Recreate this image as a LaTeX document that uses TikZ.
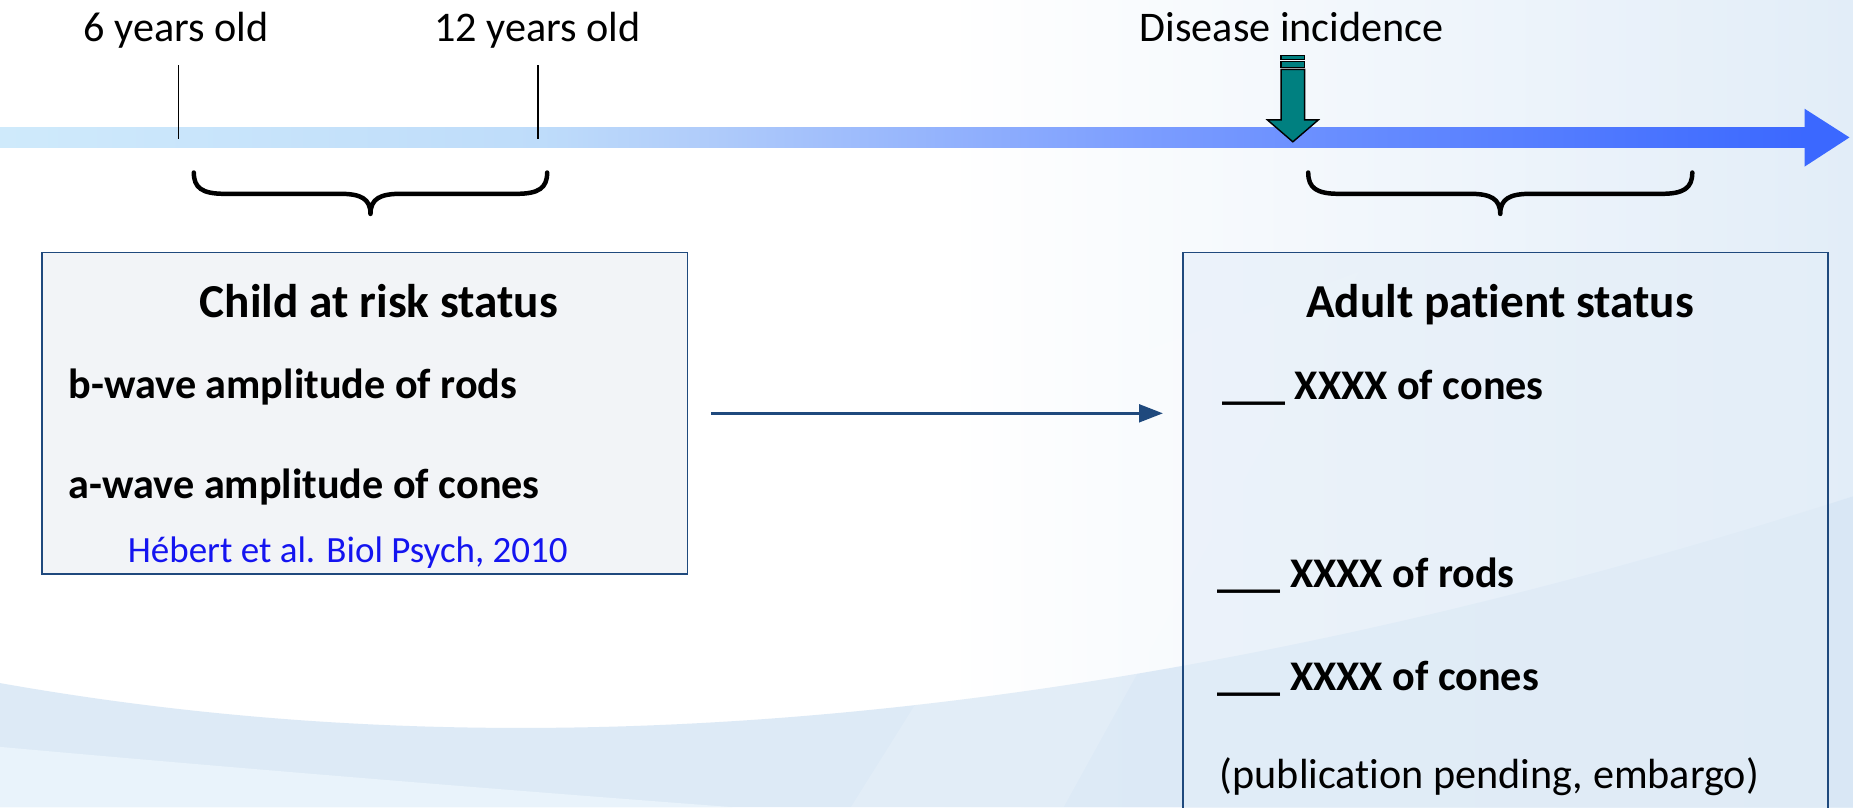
\documentclass[tikz,border=0pt]{standalone}
\usepackage{fontspec}
\setmainfont{Carlito}
\usetikzlibrary{arrows.meta}

% palette
\definecolor{tl0}{HTML}{CFEAFB}
\definecolor{tl1}{HTML}{BEDCFA}
\definecolor{tl2}{HTML}{B0CCFA}
\definecolor{tl3}{HTML}{7A9CFF}
\definecolor{tl4}{HTML}{3B68FF}
\definecolor{bgTint}{HTML}{E2EDF8}
\definecolor{bgWave}{HTML}{D8E7F5}
\definecolor{bgLight}{HTML}{E9F3FB}
\definecolor{boxLine}{HTML}{1F497D}
\definecolor{lboxFill}{HTML}{F2F4F7}
\definecolor{rboxFill}{HTML}{E4EEF8}
\definecolor{teal}{HTML}{008080}
\definecolor{citeBlue}{HTML}{1414F0}

\pgfdeclarehorizontalshading{timelineshade}{100bp}{color(0bp)=(tl0); color(25bp)=(tl0); color(40bp)=(tl1); color(44.5bp)=(tl2); color(57bp)=(tl3); color(75bp)=(tl4); color(100bp)=(tl4)}

% keeps "t" and "i" as separate glyphs
\newcommand{\nolig}{\kern0pt}

\begin{document}
\begin{tikzpicture}[x=1pt,y=-1pt,
  lbl/.style={anchor=base, inner sep=0pt, font=\fontsize{35.7}{40}\selectfont},
  title/.style={anchor=base west, inner sep=0pt, font=\fontsize{40}{44}\selectfont\bfseries},
  item/.style={anchor=base west, inner sep=0pt, font=\fontsize{35.7}{40}\selectfont\bfseries},
  plain/.style={anchor=base west, inner sep=0pt, font=\fontsize{35.7}{40}\selectfont},
  cite/.style={anchor=base west, inner sep=0pt, text=citeBlue, font=\fontsize{31.3}{35}\selectfont},
  statusbox/.style={draw=boxLine, line width=1.5pt, rectangle, inner sep=0pt},
  tick/.style={draw=black, line width=1.6pt},
  bracestyle/.style={draw=black, line width=3.8pt, line cap=round, line join=round},
  conn/.style={draw=boxLine, line width=2pt, -{Triangle[length=20pt,width=15pt]}},
  incidence/.style={fill=teal, draw=black, line width=1.2pt, line join=miter}
]
\useasboundingbox (0,0) rectangle (1568,683);
\clip (0,0) rectangle (1568,683);

% soft background
\fill[white] (0,0) rectangle (1568,683);
\shade[left color=white, right color=bgTint] (800,0) rectangle (1568,683);
\fill[bgWave, opacity=0.85] (0,578) .. controls (350,640) and (850,650) .. (1568,420) -- (1568,683) -- (0,683) -- cycle;
\fill[bgLight] (0,632) .. controls (200,650) and (420,668) .. (620,683) -- (0,683) -- cycle;
\fill[white, opacity=0.15] (960,300) -- (1150,230) -- (900,683) -- (720,683) -- cycle;

% timeline
\shade[shading=timelineshade] (0,107.5) rectangle (1528,125);
\fill[tl4] (1527,92) -- (1565,116.3) -- (1527,141) -- cycle;

% age labels and ticks
\node[lbl] (six) at (149,35) {6 years old};
\node[lbl] (twelve) at (455,35) {12 years old};
\node[lbl] (disease) at (1093,35) {Disease incidence};
\coordinate (t6top) at (151,55);
\coordinate (t6bot) at (151,118);
\coordinate (t12top) at (455,55);
\coordinate (t12bot) at (455,118);
\draw[tick] (t6top) -- (t6bot);
\draw[tick] (t12top) -- (t12bot);

% disease incidence arrow (striped)
\filldraw[incidence] (1084,47.2) rectangle (1104,50.2);
\filldraw[incidence] (1084,52.2) rectangle (1104,57.0);
\filldraw[incidence] (1084,58.7) -- (1104,58.7) -- (1104,101.5) -- (1115.5,101.5)
  -- (1094,120) -- (1072.5,101.5) -- (1084,101.5) -- cycle;

% braces
\draw[bracestyle] (164,146) .. controls (164,159) and (171,164) .. (190,164) -- (288,164)
  .. controls (305,164) and (313.5,168) .. (313.5,181)
  .. controls (313.5,168) and (322,164) .. (339,164) -- (437,164)
  .. controls (456,164) and (463,159) .. (463,146);
\draw[bracestyle] (1107,146) .. controls (1107,159) and (1114,164) .. (1133,164) -- (1244,164)
  .. controls (1261,164) and (1269.5,168) .. (1269.5,181)
  .. controls (1269.5,168) and (1278,164) .. (1295,164) -- (1406,164)
  .. controls (1425,164) and (1432,159) .. (1432,146);

% status boxes
\node[statusbox, fill=lboxFill, minimum width=546pt, minimum height=272pt, anchor=north west] (lbox) at (35,213) {};
\node[statusbox, fill=rboxFill, fill opacity=0.6, minimum width=546pt, minimum height=500pt, anchor=north west] (rbox) at (1000,213) {};

% child box text
\node[title] (ltitle) at (169,269) {Child at risk status};
\node[item] (bwave) at (58,337) {b-wave amplitude of rods};
\node[item] (awave) at (58,422) {a-wave amplitude of cones};
\node[cite] (ref) at (108,476) {Hébert et al. Biol Psych, 2010};

% adult box text
\node[title] (rtitle) at (1105,269) {Adult pat\nolig ient status};
\node[item] (r1) at (1034,338) {\_\_\_ XXXX of cones};
\node[item] (r2) at (1030,497) {\_\_\_ XXXX of rods};
\node[item] (r3) at (1030,584) {\_\_\_ XXXX of cones};
\node[plain] (r4) at (1032,667) {(publicat\nolig ion pending, embargo)};

% transition arrow
\draw[conn, shorten <=19pt, shorten >=16pt] (lbox.east) -- (lbox.east -| rbox.west);
\end{tikzpicture}
\end{document}
